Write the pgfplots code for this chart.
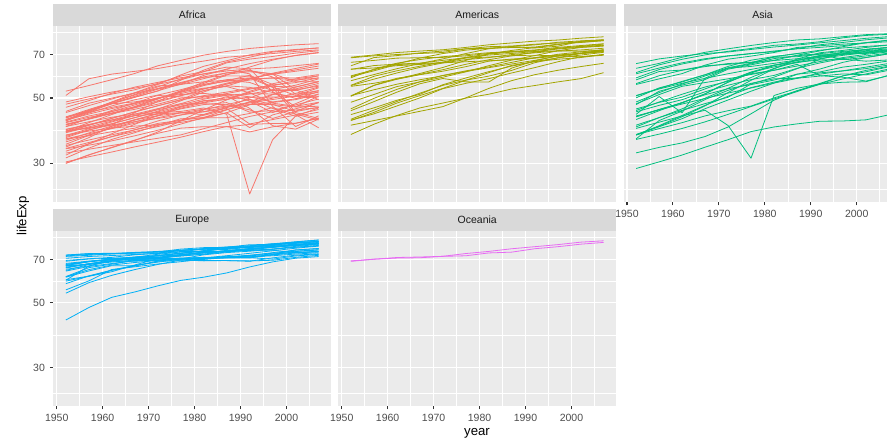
\documentclass[border=0pt]{standalone}
\usepackage{fontspec}
\setmainfont{Liberation Sans}
\usepackage{pgfplots}
\usepackage{pgfplotstable}
\pgfplotsset{compat=1.18}

\definecolor{panelbg}{HTML}{EBEBEB}
\definecolor{stripbg}{HTML}{D9D9D9}
\definecolor{tickcol}{HTML}{333333}
\definecolor{ticklab}{HTML}{4D4D4D}
\definecolor{striptext}{HTML}{1A1A1A}
\definecolor{afr}{HTML}{F8766D}
\definecolor{ame}{HTML}{A3A500}
\definecolor{asi}{HTML}{00BF7D}
\definecolor{eur}{HTML}{00B0F6}
\definecolor{oce}{HTML}{E76BF3}

% life expectancy by country, one row per country
\pgfplotstableread{
c 1952 1957 1962 1967 1972 1977 1982 1987 1992 1997 2002 2007
Algeria 43.077 45.685 48.303 51.407 54.518 58.014 61.368 65.799 67.744 69.152 70.994 72.301
Angola 30.015 31.999 34.000 35.985 37.928 39.483 39.942 39.906 40.647 40.963 41.003 42.731
Benin 38.223 40.358 42.618 44.885 47.014 49.190 50.904 52.337 53.919 54.777 54.406 56.728
Botswana 47.622 49.618 51.520 53.298 56.024 59.319 61.484 63.622 62.745 52.556 46.634 50.728
BurkinaFaso 31.975 34.906 37.814 40.697 43.591 46.137 48.122 49.557 50.260 50.324 50.650 52.295
Burundi 39.031 40.533 42.045 43.548 44.057 45.910 47.471 48.211 44.736 45.326 47.360 49.580
Cameroon 38.523 40.428 42.643 44.799 47.049 49.355 52.961 54.985 54.314 52.199 49.856 50.430
CentralAfrRep 35.463 37.464 39.475 41.478 43.457 46.775 48.295 50.485 49.396 46.066 43.308 44.741
Chad 38.092 39.881 41.716 43.601 45.569 47.383 49.517 51.051 51.724 51.573 50.525 50.651
Comoros 40.715 42.460 44.467 46.472 48.944 50.939 52.933 54.926 57.939 60.660 62.974 65.152
CongoDemRep 39.143 40.652 42.122 44.056 45.989 47.804 47.784 47.412 45.548 42.587 44.966 46.462
CongoRep 42.111 45.053 48.435 52.040 54.907 55.625 56.695 57.470 56.433 52.962 52.970 55.322
CotedIvoire 40.477 42.469 44.930 47.350 49.801 52.374 53.983 54.655 52.044 47.991 46.832 48.328
Djibouti 34.812 37.328 39.693 42.074 44.366 46.519 48.812 50.040 51.604 53.157 53.373 54.791
Egypt 41.893 44.444 46.992 49.293 51.137 53.319 56.006 59.797 63.674 67.217 69.806 71.338
EqGuinea 34.482 35.983 37.485 38.987 40.516 42.024 43.662 45.664 47.545 48.245 49.348 51.579
Eritrea 35.928 38.047 40.158 42.189 44.142 44.535 43.890 46.453 49.991 53.378 55.240 58.040
Ethiopia 34.078 36.667 40.059 42.115 43.515 44.510 44.916 46.684 48.091 49.402 50.725 52.947
Gabon 37.003 38.999 40.489 44.598 48.690 52.790 56.564 60.190 61.366 60.461 56.761 56.735
Gambia 30.000 32.065 33.896 35.857 38.308 41.842 45.580 49.265 52.644 55.861 58.041 59.448
Ghana 43.149 44.779 46.452 48.072 49.875 51.756 53.744 55.729 57.501 58.556 58.453 60.022
Guinea 33.609 34.558 35.753 37.197 38.842 40.762 42.891 45.552 48.576 51.455 53.676 56.007
GuineaBissau 32.500 33.489 34.488 35.492 36.486 37.465 39.327 41.245 43.266 44.873 45.504 46.388
Kenya 42.270 44.686 47.949 50.654 53.559 56.155 58.766 59.339 59.285 54.407 50.992 54.110
Lesotho 42.138 45.047 47.747 48.492 49.767 52.208 55.078 57.180 59.685 55.558 44.593 42.592
Liberia 38.480 39.486 40.502 41.536 42.614 43.764 44.852 46.027 40.802 42.221 43.753 45.678
Libya 42.723 45.289 47.808 50.227 52.773 57.442 62.155 66.234 68.755 71.555 72.737 73.952
Madagascar 36.681 38.865 40.848 42.881 44.851 46.881 48.969 49.350 52.214 54.978 57.286 59.443
Malawi 36.256 37.207 38.410 39.487 41.766 43.767 45.642 47.457 49.420 47.495 45.009 48.303
Mali 33.685 35.307 36.936 38.487 39.977 41.714 43.916 46.364 48.388 49.903 51.818 54.467
Mauritania 40.543 42.338 44.248 46.289 48.437 50.852 53.599 56.145 58.333 60.430 62.247 64.164
Mauritius 50.986 58.089 60.246 61.557 62.944 64.930 66.711 68.740 69.745 70.736 71.954 72.801
Morocco 42.873 45.423 47.924 50.335 52.862 55.730 59.650 62.677 65.393 67.660 69.615 71.164
Mozambique 31.286 33.779 36.161 38.113 40.328 42.495 42.795 42.861 44.284 46.344 44.026 42.082
Namibia 41.725 45.226 48.386 51.159 53.867 56.437 58.968 60.835 61.999 58.909 51.479 52.906
Niger 37.444 38.598 39.487 40.118 40.546 41.291 42.598 44.555 47.391 51.313 54.496 56.867
Nigeria 36.324 37.802 39.360 41.040 42.821 44.514 45.826 46.886 47.472 47.464 46.608 46.859
Reunion 52.724 55.090 57.666 60.542 64.274 67.064 69.885 71.913 73.615 74.772 75.744 76.442
Rwanda 40.000 41.500 43.000 44.100 44.600 45.000 46.218 44.020 23.599 36.087 43.413 46.242
SaoTome 46.471 48.945 51.893 54.425 56.480 58.550 60.351 61.728 62.742 63.306 64.337 65.528
Senegal 37.278 39.329 41.454 43.563 45.815 48.879 52.379 55.769 58.196 60.187 61.600 63.062
SierraLeone 30.331 31.570 32.767 34.113 35.400 36.788 38.445 40.006 38.333 39.897 41.012 42.568
Somalia 32.978 34.977 36.981 38.977 40.973 41.974 42.955 44.501 39.658 43.795 45.936 48.159
SouthAfrica 45.009 47.985 49.951 51.927 53.696 55.527 58.161 60.834 61.888 60.236 53.365 49.339
Sudan 38.635 39.624 40.870 42.858 45.083 47.800 50.338 51.744 53.556 55.373 56.369 58.556
Swaziland 41.407 43.424 44.992 46.633 49.552 52.537 55.561 57.678 58.474 54.289 43.869 39.613
Tanzania 41.215 42.974 44.246 45.757 47.620 49.919 50.608 51.535 50.440 48.466 49.651 52.517
Togo 38.596 41.208 43.922 46.769 49.759 52.887 55.471 56.941 58.061 58.390 57.561 58.420
Tunisia 44.600 47.100 49.579 52.053 55.602 59.837 64.048 66.894 70.001 71.973 73.042 73.923
Uganda 39.978 42.571 45.344 48.051 51.016 50.350 49.849 51.509 48.825 44.578 47.813 51.542
Zambia 42.038 44.077 46.023 47.768 50.107 51.386 51.821 50.821 46.100 40.238 39.193 42.384
Zimbabwe 48.451 50.469 52.358 53.995 55.635 57.674 60.363 62.351 60.377 46.809 39.989 43.487
}\africarows

\pgfplotstableread{
c 1952 1957 1962 1967 1972 1977 1982 1987 1992 1997 2002 2007
Argentina 62.485 64.399 65.142 65.634 67.065 68.481 69.942 70.774 71.868 73.275 74.340 75.320
Bolivia 40.414 41.890 43.428 45.032 46.714 50.023 53.859 57.251 59.957 62.050 63.883 65.554
Brazil 50.917 53.285 55.665 57.632 59.504 61.489 63.336 65.205 67.057 69.388 71.006 72.390
Canada 68.750 69.960 71.300 72.130 72.880 74.210 75.760 76.860 77.950 78.610 79.770 80.653
Chile 54.745 56.074 57.924 60.523 63.441 67.052 70.565 72.492 74.126 75.816 77.860 78.553
Colombia 50.643 55.118 57.863 59.963 61.623 63.837 66.653 67.768 68.421 70.313 71.682 72.889
CostaRica 57.206 60.026 62.842 65.424 67.849 70.750 73.450 74.752 75.713 77.260 78.123 78.782
Cuba 59.421 62.325 65.246 68.290 70.723 72.649 73.717 74.174 74.414 76.151 77.158 78.273
DominicanRep 45.928 49.828 53.459 56.751 59.631 61.788 63.727 66.046 68.457 69.957 70.847 72.235
Ecuador 48.357 51.356 54.640 56.678 58.796 61.310 64.342 67.231 69.613 72.312 74.173 74.994
ElSalvador 45.262 48.570 52.307 55.855 58.207 56.696 56.604 63.154 66.798 69.535 70.734 71.878
Guatemala 42.023 44.142 46.954 50.016 53.738 56.029 58.137 60.782 63.373 66.322 68.978 70.259
Haiti 37.579 40.696 43.590 46.243 48.042 49.923 51.461 53.636 55.089 56.671 58.137 60.916
Honduras 41.912 44.665 48.041 50.924 53.884 57.402 60.909 64.492 66.399 67.659 68.565 70.198
Jamaica 58.530 62.610 65.610 67.510 69.000 70.110 71.210 71.770 71.766 72.262 72.047 72.567
Mexico 50.789 55.190 58.299 60.110 62.361 65.032 67.405 69.498 71.455 73.670 74.902 76.195
Nicaragua 42.314 45.432 48.632 51.884 55.151 57.470 59.298 62.008 65.843 68.426 70.836 72.899
Panama 55.191 59.201 61.817 64.071 66.216 68.681 70.472 71.523 72.462 73.738 74.712 75.537
Paraguay 62.649 63.196 64.361 64.951 65.815 66.353 66.874 67.378 68.225 69.400 70.755 71.752
Peru 43.902 46.263 49.096 51.445 55.448 58.447 61.406 64.134 66.458 68.386 69.906 71.421
PuertoRico 64.280 68.540 69.620 71.100 72.160 73.440 73.750 74.630 73.911 74.917 77.778 78.746
Trinidad 59.100 61.800 64.900 65.400 65.900 68.300 68.832 69.582 69.862 69.465 68.976 69.819
UnitedStates 68.440 69.490 70.210 70.760 71.340 73.380 74.650 75.020 76.090 76.810 77.310 78.242
Uruguay 66.071 67.044 68.253 68.468 68.673 69.481 70.805 71.918 72.752 74.223 75.307 76.384
Venezuela 55.088 57.907 60.770 63.479 65.712 67.456 68.557 70.190 71.150 72.146 72.766 73.747
}\americasrows

\pgfplotstableread{
c 1952 1957 1962 1967 1972 1977 1982 1987 1992 1997 2002 2007
Afghanistan 28.801 30.332 31.997 34.020 36.088 38.438 39.854 40.822 41.674 41.763 42.129 43.828
Bahrain 50.939 53.832 56.923 59.923 63.300 65.593 69.052 70.750 72.601 73.925 74.795 75.635
Bangladesh 37.484 39.348 41.216 43.453 45.252 46.923 50.009 52.819 56.018 59.412 62.013 64.062
Cambodia 39.417 41.366 43.415 45.415 40.317 31.220 50.957 53.914 55.803 56.534 56.752 59.723
China 44.000 50.549 44.501 58.381 63.119 63.967 65.525 67.274 68.690 70.426 72.028 72.961
HongKong 60.960 64.750 67.650 70.000 72.000 73.600 75.450 76.200 77.601 80.000 81.495 82.208
India 37.373 40.249 43.605 47.193 50.651 54.208 56.596 58.553 60.223 61.765 62.879 64.698
Indonesia 37.468 39.918 42.518 45.964 49.203 52.702 56.159 60.137 62.681 66.041 68.588 70.650
Iran 44.869 47.181 49.325 52.469 55.234 57.702 59.620 63.040 65.742 68.042 69.451 70.964
Iraq 45.320 48.437 51.457 54.459 56.950 60.413 62.038 65.044 59.461 58.811 57.046 59.545
Israel 65.390 67.840 69.390 70.750 71.630 73.060 74.450 75.600 76.930 78.269 79.696 80.745
Japan 63.030 65.500 68.730 71.430 73.420 75.380 77.110 78.670 79.360 80.690 82.000 82.603
Jordan 43.158 45.669 48.126 51.629 56.528 61.134 63.739 65.869 68.015 69.772 71.263 72.535
KoreaDemRep 50.056 54.081 56.656 59.942 63.983 67.159 69.100 70.647 69.978 67.727 66.662 67.297
KoreaRep 47.453 52.681 55.292 57.716 62.612 64.766 67.123 69.810 72.244 74.647 77.045 78.623
Kuwait 55.565 58.033 60.470 64.624 67.712 69.343 71.309 74.174 75.190 76.156 76.904 77.588
Lebanon 55.928 59.489 62.094 63.870 65.421 66.099 66.983 67.926 69.292 70.265 71.028 71.993
Malaysia 48.463 52.102 55.737 59.371 63.010 65.256 68.000 69.500 70.693 71.938 73.044 74.241
Mongolia 42.244 45.248 48.251 51.253 53.754 55.491 57.489 60.222 61.271 63.625 65.033 66.803
Myanmar 36.319 41.905 45.108 49.379 53.070 56.059 58.056 58.339 59.320 60.328 59.908 62.069
Nepal 36.157 37.686 39.393 41.472 43.971 46.748 49.594 52.537 55.727 59.426 61.340 63.785
Oman 37.578 40.080 43.165 46.988 52.143 57.367 62.728 67.734 71.197 72.499 74.193 75.640
Pakistan 43.436 45.557 47.670 49.800 51.929 54.043 56.158 58.245 60.838 61.818 63.610 65.483
Philippines 47.752 51.334 54.757 56.393 58.065 60.060 62.082 64.151 66.458 68.564 70.303 71.688
SaudiArabia 39.875 42.868 45.914 49.901 53.886 58.690 63.012 66.295 68.768 70.533 71.626 72.777
Singapore 60.396 63.179 65.798 67.946 69.521 70.795 71.760 73.560 75.788 77.158 78.770 79.972
SriLanka 57.593 61.456 62.192 64.266 65.042 65.949 68.757 69.011 70.379 70.457 70.815 72.396
Syria 45.883 48.284 50.305 53.655 57.296 61.195 64.590 66.974 69.249 71.527 73.053 74.143
Taiwan 58.500 62.400 65.200 67.500 69.390 70.590 72.160 73.400 74.260 75.250 76.990 78.400
Thailand 50.848 53.630 56.061 58.285 60.405 62.494 64.597 66.084 67.298 67.521 68.564 70.616
Vietnam 40.412 42.887 45.363 47.838 50.254 55.764 58.816 62.820 67.662 70.672 73.017 74.249
WestBankGaza 43.160 45.671 48.127 51.631 56.532 60.765 64.406 67.046 69.718 71.096 72.370 73.422
Yemen 32.548 33.970 35.180 36.984 39.848 44.175 49.113 52.922 55.599 58.020 60.308 62.698
}\asiarows

\pgfplotstableread{
c 1952 1957 1962 1967 1972 1977 1982 1987 1992 1997 2002 2007
Albania 55.230 59.280 64.820 66.220 67.690 68.930 70.420 72.000 71.581 72.950 75.651 76.423
Austria 66.800 67.480 69.540 70.140 70.630 72.170 73.180 74.940 76.040 77.510 78.980 79.829
Belgium 68.000 69.240 70.250 70.940 71.440 72.800 73.930 75.350 76.460 77.530 78.320 79.441
Bosnia 53.820 58.450 61.930 64.790 67.450 69.860 70.690 71.140 72.178 73.244 74.090 74.852
Bulgaria 59.600 66.610 69.510 70.420 70.900 70.810 71.080 71.340 71.190 70.320 72.140 73.005
Croatia 61.210 64.770 67.130 68.500 69.610 70.640 70.460 71.520 72.527 73.680 74.876 75.748
Czech 66.870 69.030 69.900 70.380 70.290 70.710 70.960 71.580 72.400 74.010 75.510 76.486
Denmark 70.780 71.810 72.350 72.960 73.470 74.690 74.630 74.800 75.330 76.110 77.180 78.332
Finland 66.550 67.490 68.750 69.830 70.870 72.520 74.550 74.830 75.700 77.130 78.370 79.313
France 67.410 68.930 70.510 71.550 72.380 73.830 74.890 76.340 77.460 78.640 79.590 80.657
Germany 67.500 69.100 70.300 70.800 71.000 72.500 73.800 74.847 76.070 77.340 78.670 79.406
Greece 65.860 67.860 69.510 71.000 72.340 73.680 75.240 76.670 77.030 77.869 78.256 79.483
Hungary 64.030 66.410 67.960 69.500 69.760 69.950 69.390 69.580 69.170 71.040 72.590 73.338
Iceland 72.490 73.470 73.680 73.730 74.460 76.110 76.990 77.230 78.770 78.950 80.500 81.757
Ireland 66.910 68.900 70.290 71.080 71.280 72.030 73.100 74.360 75.467 76.122 77.783 78.885
Italy 65.940 67.810 69.240 71.060 72.190 73.480 74.980 76.420 77.440 78.820 80.240 80.546
Montenegro 59.164 61.448 63.728 67.178 70.636 73.066 74.101 74.865 75.435 75.445 73.981 74.543
Netherlands 72.130 72.990 73.230 73.820 73.750 75.240 76.050 76.830 77.420 78.030 78.530 79.762
Norway 72.670 73.440 73.470 74.080 74.340 75.370 75.970 75.890 77.320 78.320 79.050 80.196
Poland 61.310 65.770 67.640 69.610 70.850 70.670 71.320 70.980 70.990 72.750 74.670 75.563
Portugal 59.820 61.510 64.390 66.600 69.260 70.410 72.770 74.060 74.860 75.970 77.290 78.098
Romania 61.050 64.100 66.800 66.800 69.210 69.460 69.660 69.530 69.360 69.720 71.322 72.476
Serbia 57.996 61.685 64.531 66.914 68.700 70.300 70.162 71.218 71.659 72.232 73.213 74.002
Slovakia 64.360 67.450 70.330 70.980 70.350 70.450 70.800 71.080 71.380 72.710 73.800 74.663
Slovenia 65.570 67.850 69.150 69.180 69.820 70.970 71.063 72.250 73.640 75.130 76.660 77.926
Spain 64.940 66.660 69.690 71.440 73.060 74.390 76.300 76.900 77.570 78.770 79.780 80.941
Sweden 71.860 72.490 73.370 74.160 74.720 75.440 76.420 77.190 78.160 79.390 80.040 80.884
Switzerland 69.620 70.560 71.320 72.770 73.780 75.390 76.210 77.410 78.030 79.370 80.620 81.701
Turkey 43.585 48.079 52.098 54.336 57.005 59.507 61.036 63.108 66.146 68.835 70.845 71.777
UnitedKingdom 69.180 70.420 70.760 71.360 72.010 72.760 74.040 75.007 76.420 77.218 78.471 79.425
}\europerows

\pgfplotstableread{
c 1952 1957 1962 1967 1972 1977 1982 1987 1992 1997 2002 2007
Australia 69.120 70.330 70.930 71.100 71.930 73.490 74.740 76.320 77.560 78.830 80.370 81.235
NewZealand 69.390 70.260 71.240 71.520 71.890 72.220 73.840 74.320 76.330 77.550 79.110 80.204
}\oceaniarows

% one column per country, years in the first column
\pgfplotstabletranspose[colnames from=c, input colnames to=year]{\africa}{\africarows}
\pgfplotstabletranspose[colnames from=c, input colnames to=year]{\americas}{\americasrows}
\pgfplotstabletranspose[colnames from=c, input colnames to=year]{\asia}{\asiarows}
\pgfplotstabletranspose[colnames from=c, input colnames to=year]{\europe}{\europerows}
\pgfplotstabletranspose[colnames from=c, input colnames to=year]{\oceania}{\oceaniarows}

\newcommand{\strip}[3]{% x-left, y-bottom, label
  \fill[stripbg] (#1,#2) rectangle ++(278pt,21.2pt);
  \node[font=\fontsize{10.5}{12}\selectfont, text=striptext, inner sep=0pt]
    at ([xshift=139pt,yshift=10.6pt]#1,#2) {#3};
}

\begin{document}
\begin{tikzpicture}

% shared look of every facet panel
\pgfplotsset{
  every axis/.append style={
    scale only axis, width=278pt,
    xmin=1949.25, xmax=2009.75,
    ymin=22.17, ymax=87.96,
    axis background/.style={fill=panelbg},
    axis line style={draw=none},
    xtick={1950,1960,1970,1980,1990,2000},
    minor xtick={1955,1965,1975,1985,1995,2005},
    ytick={30,50,70}, minor ytick={24.49,38.73,59.16,83.67},
    xtick pos=bottom, ytick pos=left,
    xmajorgrids, ymajorgrids, xminorgrids, yminorgrids,
    major grid style={white, line width=1.15pt},
    minor grid style={white, line width=0.55pt},
    tick align=outside, major tick length=3.3pt, minor tick length=0pt,
    ticklabel style={font=\fontsize{10.5}{12}\selectfont, text=ticklab},
    xticklabel style={yshift=-1.5pt},
    yticklabel style={xshift=-1.5pt},
  },
  every axis plot/.append style={line width=0.8pt, line join=round},
}

\begin{axis}[ymode=log, height=176.3pt, at={(53.25pt,241pt)}, anchor=south west,
  xticklabels={}, xtick style={draw=none},
  yticklabels={30,50,70}, ytick style={draw=tickcol, line width=1.15pt}]
  \pgfplotsinvokeforeach{1,...,52}{\addplot[afr] table[x=year, y index=#1] {\africa};}
\end{axis}

\begin{axis}[ymode=log, height=176.3pt, at={(338.25pt,241pt)}, anchor=south west,
  xticklabels={}, xtick style={draw=none},
  yticklabels={}, ytick style={draw=none}]
  \pgfplotsinvokeforeach{1,...,25}{\addplot[ame] table[x=year, y index=#1] {\americas};}
\end{axis}

\begin{axis}[ymode=log, height=176.3pt, at={(623.5pt,241pt)}, anchor=south west,
  xticklabels={1950,1960,1970,1980,1990,2000}, xtick style={draw=tickcol, line width=1.15pt},
  yticklabels={}, ytick style={draw=none}]
  \pgfplotsinvokeforeach{1,...,33}{\addplot[asi] table[x=year, y index=#1] {\asia};}
\end{axis}

\begin{axis}[ymode=log, height=175.3pt, at={(53.25pt,37pt)}, anchor=south west,
  xticklabels={1950,1960,1970,1980,1990,2000}, xtick style={draw=tickcol, line width=1.15pt},
  yticklabels={30,50,70}, ytick style={draw=tickcol, line width=1.15pt}]
  \pgfplotsinvokeforeach{1,...,30}{\addplot[eur] table[x=year, y index=#1] {\europe};}
\end{axis}

\begin{axis}[ymode=log, height=175.3pt, at={(338.25pt,37pt)}, anchor=south west,
  xticklabels={1950,1960,1970,1980,1990,2000}, xtick style={draw=tickcol, line width=1.15pt},
  yticklabels={}, ytick style={draw=none}]
  \pgfplotsinvokeforeach{1,2}{\addplot[oce] table[x=year, y index=#1] {\oceania};}
\end{axis}

\strip{53.25pt}{417.3pt}{Africa}
\strip{338.25pt}{417.3pt}{Americas}
\strip{623.5pt}{417.3pt}{Asia}
\strip{53.25pt}{212.3pt}{Europe}
\strip{338.25pt}{212.3pt}{Oceania}

\node[font=\fontsize{13.2}{15}\selectfont, rotate=90] at (23pt,227pt) {lifeExp};
\node[font=\fontsize{13.2}{15}\selectfont] at (477pt,9.7pt) {year};

\pgfresetboundingbox
\path[use as bounding box] (0,0) rectangle (887pt,443pt);
\end{tikzpicture}
\end{document}
